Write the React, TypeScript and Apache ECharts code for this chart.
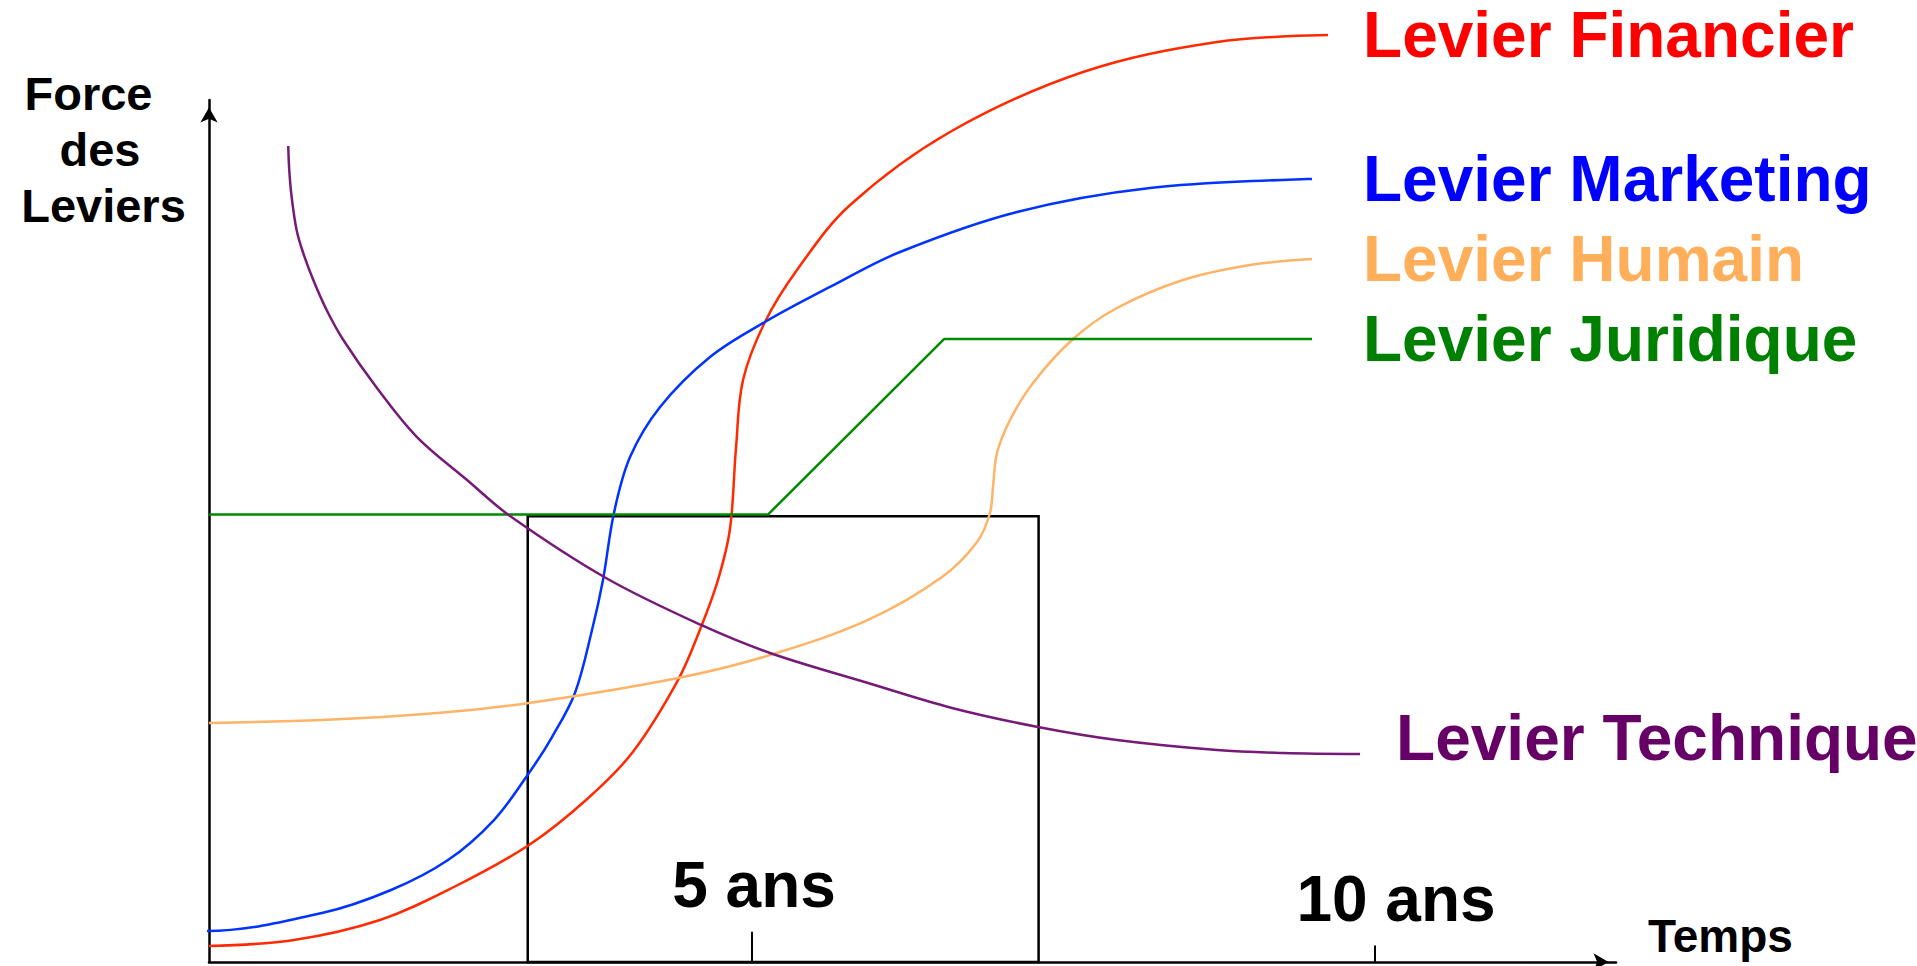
import React, { useEffect, useRef } from 'react';
import * as echarts from 'echarts';

const FONT = '"Liberation Sans", Arial, Helvetica, sans-serif';

// axis range (years / force)
const xMin = 0.642;
const xMax = 11.934;
const yMin = 0;
const yMax = 100;

const tickYears = [5, 10];
const tickTops = [3.5, 1.9];
const tickBottom = 0;

// highlighted period (rectangle)
const periodStart = 3.2;
const periodEnd = 7.3;
const periodTop = 51.7;

const names = ['Levier Financier', 'Levier Marketing', 'Levier Humain', 'Levier Juridique', 'Levier Technique'];

const financier = [
  [0.642, 1.86], [1.324, 2.55], [2.014, 4.87], [2.608, 8.7], [3.21, 13.57], [3.668, 18.79], [4.037, 24.25],
  [4.406, 32.71], [4.591, 38.86], [4.727, 44.32], [4.823, 50.23], [4.872, 59.74], [4.928, 67.52],
  [5.104, 74.25], [5.361, 80.28], [5.787, 87.82], [6.589, 96.29], [7.657, 103.25], [8.732, 106.73],
  [9.623, 107.54],
];

const marketing = [
  [0.498, 3.6], [0.626, 3.6], [1.549, 5.68], [2.103, 8.35], [2.56, 11.83], [2.929, 16.47], [3.21, 21.93],
  [3.395, 26.1], [3.579, 31.21], [3.716, 38.52], [3.804, 44.32], [3.892, 52.09], [4.021, 58.58],
  [4.262, 64.39], [4.663, 70.19], [5.104, 74.25], [5.626, 78.31], [6.188, 82.37], [7.127, 87.01],
  [8.194, 89.79], [9.494, 90.84],
];

const humain = [
  [0.642, 27.73], [1.549, 28.07], [2.472, 28.89], [3.21, 30.05], [4.406, 32.95], [5.144, 35.61],
  [5.931, 39.68], [6.525, 44.66], [6.806, 48.72], [6.91, 52.09], [6.934, 55.1], [6.966, 59.05],
  [7.071, 62.88], [7.255, 67.17], [7.576, 72.27], [7.929, 75.87], [8.459, 79.12], [8.997, 80.86],
  [9.494, 81.55],
];

const juridique = [
  [0.642, 51.9], [5.128, 51.9], [6.541, 72.27], [9.494, 72.27],
];

const technique = [
  [1.278, 94.66], [1.286, 91.88], [1.305, 88.79], [1.345, 84.92], [1.398, 82.25], [1.479, 79.12],
  [1.586, 75.64], [1.72, 72.16], [1.99, 66.59], [2.311, 60.9], [2.713, 55.92], [3.058, 51.74],
  [3.828, 44.55], [4.591, 39.1], [5.144, 35.85], [5.931, 32.37], [6.605, 29.47], [7.295, 27.26],
  [7.929, 25.75], [8.732, 24.59], [9.262, 24.25], [9.88, 24.13],
];

const lineColors = ['#FF2A00', '#0033FF', '#FFB366', '#008A00', '#761A78'];
const labelColors = ['#FF0000', '#0000FF', '#FFAE5A', '#008000', '#660066'];
const labelDistance = [35, 51, 51, 51, 36];
const labelOffset = [[0, 0], [0, 0], [0, 0], [0, 0], [0, -16]];

export default function App() {
  const ref = useRef<HTMLDivElement>(null);

  useEffect(() => {
    if (!ref.current) return;
    const chart = echarts.init(ref.current, null, { renderer: 'svg' });
    const datasets = [financier, marketing, humain, juridique, technique];

    const lineSeries = datasets.map((d, i) => ({
      name: names[i],
      type: 'line',
      data: d,
      showSymbol: false,
      symbol: 'none',
      smooth: i === 3 ? false : 0.35,
      clip: false,
      silent: true,
      lineStyle: { color: lineColors[i], width: 2.5 },
      endLabel: {
        show: true,
        formatter: '{a}',
        color: labelColors[i],
        fontFamily: FONT,
        fontWeight: 'bold',
        fontSize: 64,
        distance: labelDistance[i],
        offset: labelOffset[i],
      },
    }));

    const frameSeries = {
      name: 'cadre',
      type: 'line',
      data: [],
      silent: true,
      clip: false,
      markArea: {
        silent: true,
        itemStyle: { color: 'rgba(0,0,0,0)', borderColor: '#000', borderWidth: 2.5 },
        data: [[{ coord: [periodStart, yMin] }, { coord: [periodEnd, periodTop] }]],
      },
      markLine: {
        silent: true,
        symbol: ['none', 'none'],
        label: { show: false },
        lineStyle: { color: '#000', width: 2, type: 'solid' },
        data: tickYears.map((t, i) => [{ coord: [t, tickBottom] }, { coord: [t, tickTops[i]] }]),
      },
    };

    chart.setOption({
      animation: false,
      backgroundColor: '#fff',
      grid: { left: 209, right: 301, top: 100, bottom: 4, containLabel: false, outerBoundsMode: 'none' },
      xAxis: {
        type: 'value',
        min: xMin,
        max: xMax,
        name: 'Temps',
        nameLocation: 'end',
        nameGap: 32,
        nameTextStyle: {
          color: '#000', fontFamily: FONT, fontWeight: 'bold', fontSize: 46, lineHeight: 46,
          align: 'left',
          verticalAlign: 'bottom',
          padding: [0, 0, 3, 0],
        },
        axisLine: {
          show: true,
          onZero: false,
          symbol: ['none', 'arrow'],
          symbolSize: [13, 15],
          symbolOffset: [0, -7.5],
          lineStyle: { color: '#000', width: 2.5 },
        },
        axisTick: { show: false },
        splitLine: { show: false },
        axisLabel: {
          show: true,
          inside: true,
          margin: 31,
          customValues: tickYears,
          formatter: (v: number) => (v === 5 ? '{a|' + v + ' ans}' : '{b|' + v + ' ans}'),
          rich: {
            a: { color: '#000', fontFamily: FONT, fontWeight: 'bold', fontSize: 64, lineHeight: 64, padding: [0, 0, 28, 4] },
            b: { color: '#000', fontFamily: FONT, fontWeight: 'bold', fontSize: 64, lineHeight: 64, padding: [0, 0, 0, 42] },
          },
        },
      },
      yAxis: {
        type: 'value',
        min: yMin,
        max: yMax,
        name: '{f|Force}\n{d|des}\n{l|Leviers}',
        nameLocation: 'end',
        nameGap: 35,
        nameTextStyle: {
          align: 'center',
          verticalAlign: 'top',
          padding: [0, 211, 0, 0],
          rich: {
            f: { color: '#000', fontFamily: FONT, fontWeight: 'bold', fontSize: 47, lineHeight: 56, padding: [0, 30, 0, 0] },
            d: { color: '#000', fontFamily: FONT, fontWeight: 'bold', fontSize: 47, lineHeight: 56, padding: [0, 7, 0, 0] },
            l: { color: '#000', fontFamily: FONT, fontWeight: 'bold', fontSize: 47, lineHeight: 56 },
          },
        },
        axisLine: {
          show: true,
          onZero: false,
          symbol: ['none', 'arrow'],
          symbolSize: [13, 15],
          symbolOffset: [0, -7.5],
          lineStyle: { color: '#000', width: 2.5 },
        },
        axisTick: { show: false },
        axisLabel: { show: false },
        splitLine: { show: false },
      },
      series: [frameSeries, ...lineSeries],
    });

    return () => {
      chart.dispose();
    };
  }, []);

  return (
    <div
      ref={ref}
      style={{ position: 'fixed', left: 0, top: 0, width: '1917px', height: '966px', background: '#fff' }}
    />
  );
}
